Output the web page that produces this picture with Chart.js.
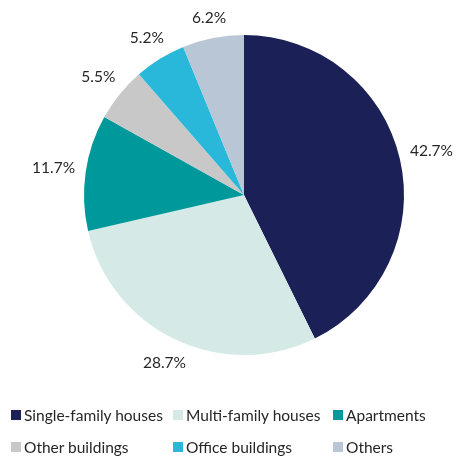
<!DOCTYPE html>
<html>
<head>
<meta charset="utf-8">
<script src="https://cdn.jsdelivr.net/npm/chart.js@4/dist/chart.umd.min.js"></script>
<style>
  body { margin: 0; background: #fff; font-family: Lato, 'Open Sans', sans-serif; }
  #wrap { position: relative; width: 456px; height: 456px; }
  #legend { position: absolute; left: 11px; top: 406px; display: grid; grid-template-columns: 162px 160px 120px; row-gap: 14px; font-size: 15.5px; color: #262626; }
  .item { display: flex; align-items: center; white-space: nowrap; height: 18px; }
  .swatch { width: 10px; height: 10px; margin-right: 3px; flex: none; }
</style>
</head>
<body>
<div id="wrap">
  <canvas id="chart"></canvas>
  <div id="legend"></div>
</div>
<script>
  // donnees du graphique
  const LABELS = ['Single-family houses', 'Multi-family houses', 'Apartments', 'Other buildings', 'Office buildings', 'Others'];
  const VALUES = [42.7, 28.7, 11.7, 5.5, 5.2, 6.2];
  const COLORS = ['#1b2157', '#d5eae6', '#00999b', '#c8c8c8', '#29b8da', '#b8c6d6'];

  // etiquettes % a l'exterieur du camembert
  const outsideLabels = {
    id: 'outsideLabels',
    afterDatasetsDraw(chart) {
      const ctx = chart.ctx;
      const meta = chart.getDatasetMeta(0);
      ctx.save();
      ctx.font = '15.5px Lato, "Open Sans", sans-serif';
      ctx.fillStyle = '#262626';
      ctx.textAlign = 'center';
      ctx.textBaseline = 'middle';
      meta.data.forEach((arc, i) => {
        const text = VALUES[i].toFixed(1) + '%';
        const w = ctx.measureText(text).width;
        const h = 14;
        const mid = (arc.startAngle + arc.endAngle) / 2;
        const dx = Math.cos(mid), dy = Math.sin(mid);
        const extent = Math.abs(dx) * w / 2 + Math.abs(dy) * h / 2;
        const r = arc.outerRadius + 10 + extent;
        ctx.fillText(text, arc.x + dx * r, arc.y + dy * r);
      });
      ctx.restore();
    },
  };

  new Chart(document.getElementById('chart'), {
    type: 'pie',
    data: {
      labels: LABELS,
      datasets: [{ data: VALUES, backgroundColor: COLORS, borderWidth: 0 }],
    },
    options: {
      responsive: true,
      maintainAspectRatio: false,
      animation: false,
      layout: { padding: { left: 84, right: 52, top: 35, bottom: 101 } },
      plugins: { legend: { display: false }, tooltip: { enabled: false } },
    },
    plugins: [outsideLabels],
  });

  // legende en grille (colonnes alignees)
  document.getElementById('legend').innerHTML = LABELS.map((l, i) => `
    <div class="item"><span class="swatch" style="background:${COLORS[i]}"></span>${l}</div>`).join('');
</script>
</body>
</html>
